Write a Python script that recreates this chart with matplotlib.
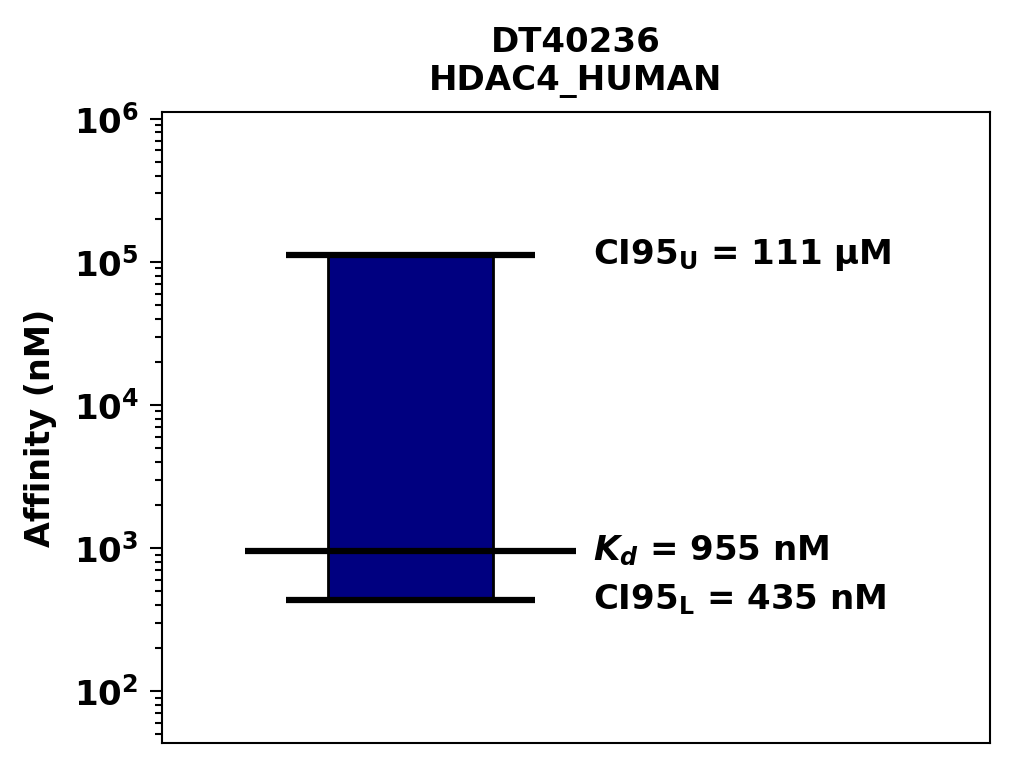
import matplotlib
matplotlib.use("Agg")
import matplotlib.pyplot as plt

compound = "DT40236"
target = "HDAC4_HUMAN"
kd = 955.0        # nM
ci_lower = 435.0  # nM
ci_upper = 111000.0  # nM
labels = [r"CI95$_\mathregular{U}$ = 111 μM",
          r"$\mathit{K_d}$ = 955 nM",
          r"CI95$_\mathregular{L}$ = 435 nM"]

plt.rcParams['font.family'] = 'DejaVu Sans'
plt.rcParams['font.weight'] = 'bold'
plt.rcParams['mathtext.default'] = 'bf'

fig = plt.figure(figsize=(10.14, 7.68), dpi=100)
ax = fig.add_axes([0.160, 0.0326, 0.816, 0.8214])

# bar spanning the confidence interval
ax.bar(0.3, ci_upper - ci_lower, bottom=ci_lower, width=0.2,
       color='navy', edgecolor='black', linewidth=2)
ax.hlines([ci_lower, ci_upper], 0.15, 0.45, color='black', linewidth=4.5)
ax.hlines(kd, 0.1, 0.5, color='black', linewidth=4.5)

ax.text(0.52, ci_upper, labels[0], fontsize=24.5, fontweight='bold', va='center')
ax.text(0.52, kd, labels[1], fontsize=24.5, fontweight='bold', va='center')
ax.text(0.52, ci_lower, labels[2], fontsize=24.5, fontweight='bold', va='center')

ax.set_yscale('log')
ax.set_ylim(ci_lower / 10, ci_upper * 10)
ax.set_xlim(0, 1)
ax.set_xticks([])
ax.set_ylabel('Affinity (nM)', fontsize=24, fontweight='bold', labelpad=12)
ax.set_title(compound + "\n" + target, fontsize=24.5, fontweight='bold', pad=16)

ax.tick_params(axis='y', which='major', labelsize=24.5, length=9, width=1.5, pad=8)
ax.tick_params(axis='y', which='minor', length=5, width=1.5)
for sp in ax.spines.values():
    sp.set_linewidth(1.5)

fig.savefig('out.png', dpi=100)
